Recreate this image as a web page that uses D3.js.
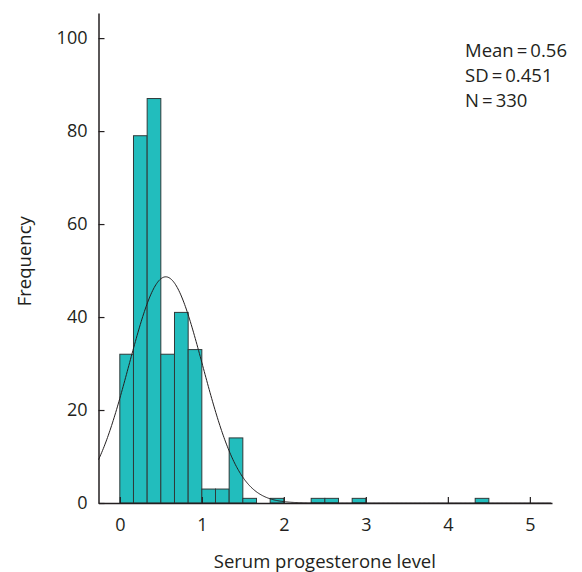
<!DOCTYPE html>
<html>
<head>
<meta charset="utf-8">
<script src="https://cdn.jsdelivr.net/npm/d3@7"></script>
<style>
  body { margin: 0; background: #fff; }
  svg text { font-family: "Open Sans", "Noto Sans", sans-serif; fill: #231f20; }
</style>
</head>
<body>
<div id="chart"></div>
<script>
// histogram bins (width 1/6) starting at 0
const binWidth = 1 / 6;
const counts = [32, 79, 87, 32, 41, 33, 3, 3, 14, 1, 0, 1, 0, 0, 1, 1, 0, 1,
                0, 0, 0, 0, 0, 0, 0, 0, 1];
const xTicks = [0, 1, 2, 3, 4, 5];
const yTicks = [0, 20, 40, 60, 80, 100];
const stats = { mean: 0.56, sd: 0.451, n: 330 };
const statLabels = ["Mean\u2009=\u20090.56", "SD\u2009=\u20090.451", "N\u2009=\u2009330"];

const W = 582, H = 572;
const svg = d3.select("#chart").append("svg")
  .attr("width", W).attr("height", H);

const x = d3.scaleLinear().domain([-0.26, 5.27]).range([98.5, 552]);
const y = d3.scaleLinear().domain([0, 105.4]).range([503, 13]);

const bins = counts.map((c, i) => ({ x0: i * binWidth, x1: (i + 1) * binWidth, c }));

// bars
svg.append("g").selectAll("rect")
  .data(bins.filter(d => d.c > 0))
  .join("rect")
  .attr("x", d => x(d.x0))
  .attr("y", d => y(d.c))
  .attr("width", d => x(d.x1) - x(d.x0))
  .attr("height", d => y(0) - y(d.c))
  .attr("fill", "#22bdbd")
  .attr("stroke", "#2f3a3a")
  .attr("stroke-width", 1);

// fitted normal curve
const pdf = v => stats.n * binWidth / (stats.sd * Math.sqrt(2 * Math.PI)) *
  Math.exp(-0.5 * Math.pow((v - stats.mean) / stats.sd, 2));
const xs = d3.range(-0.26, 5.27, 0.01);
svg.append("path")
  .datum(xs)
  .attr("fill", "none")
  .attr("stroke", "#231f20")
  .attr("stroke-width", 1)
  .attr("d", d3.line().x(d => x(d)).y(d => y(pdf(d))));

// axes (ticks point inward)
const xAxis = svg.append("g")
  .attr("transform", `translate(0,${y(0)})`)
  .call(d3.axisBottom(x).tickValues(xTicks).tickFormat(d3.format("d"))
    .tickSizeInner(-6).tickSizeOuter(0).tickPadding(15));
const yAxis = svg.append("g")
  .attr("transform", `translate(${x(-0.26)},0)`)
  .call(d3.axisLeft(y).tickValues(yTicks).tickFormat(d3.format("d"))
    .tickSizeInner(-6).tickSizeOuter(0).tickPadding(11));

[xAxis, yAxis].forEach(g => {
  g.select(".domain").attr("stroke", "#231f20").attr("stroke-width", 1.5);
  g.selectAll(".tick line").attr("stroke", "#231f20").attr("stroke-width", 1.2);
  g.selectAll(".tick text").attr("font-size", 18).attr("font-family", null);
});

// axis titles
svg.append("text")
  .attr("x", x(2.5)).attr("y", 568)
  .attr("text-anchor", "middle")
  .attr("font-size", 18.5)
  .text("Serum progesterone level");

svg.append("text")
  .attr("transform", `translate(31,${y(52)}) rotate(-90)`)
  .attr("text-anchor", "middle")
  .attr("font-size", 18.5)
  .text("Frequency");

// stats box
svg.append("g").selectAll("text")
  .data(statLabels)
  .join("text")
  .attr("x", 465)
  .attr("y", (d, i) => 57 + i * 25)
  .attr("font-size", 18.5)
  .text(d => d);
</script>
</body>
</html>
